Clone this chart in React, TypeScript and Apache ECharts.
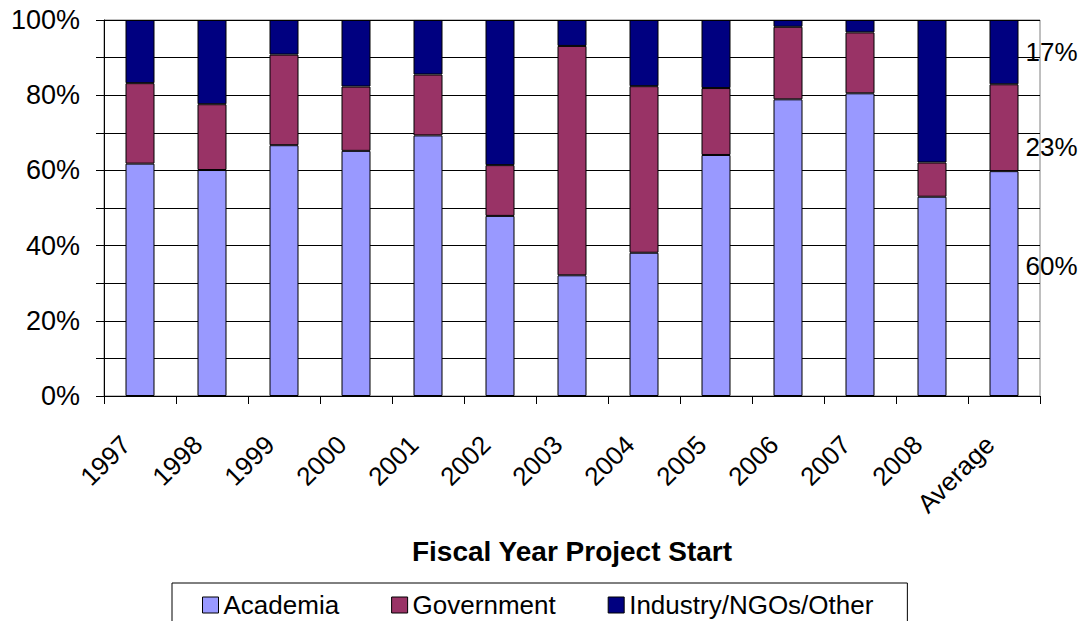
import React, { useEffect, useRef } from "react";
import * as echarts from "echarts";

const categories = ["1997", "1998", "1999", "2000", "2001", "2002", "2003", "2004", "2005", "2006", "2007", "2008", "Average"];
const academia = [61.8, 60.1, 66.7, 65.2, 69.3, 47.9, 32.1, 38.1, 64.1, 78.9, 80.5, 53.0, 59.8];
const government = [21.4, 17.5, 24.1, 17.1, 16.2, 13.5, 61.0, 44.3, 17.8, 19.3, 16.2, 9.1, 23.1];
const industry = [16.8, 22.4, 9.2, 17.7, 14.5, 38.6, 6.9, 17.6, 18.1, 1.8, 3.3, 37.9, 17.1];

const seriesNames = ["Academia", "Government", "Industry/NGOs/Other"];
const seriesColors = ["#9999FF", "#993366", "#000080"];
const labelOffsets = [-18, 19, 0];

const FONT = "'Liberation Sans', Arial, sans-serif";

export default function App() {
  const ref = useRef<HTMLDivElement>(null);
  useEffect(() => {
    if (!ref.current) return;
    const chart = echarts.init(ref.current, null, { renderer: "svg" });
    const all = [academia, government, industry];
    const series = all.map((arr, si) => ({
      name: seriesNames[si],
      type: "bar",
      stack: "total",
      barWidth: 29,
      itemStyle: { color: seriesColors[si], borderColor: "#000", borderWidth: 1 },
      data: arr.map((v, i) =>
        i === arr.length - 1
          ? {
              value: v,
              label: {
                show: true,
                position: "right",
                distance: 7,
                offset: [0, labelOffsets[si]],
                formatter: (p: any) => Math.round(p.value) + "%",
                color: "#000",
                fontSize: 26,
                fontFamily: FONT,
              },
            }
          : v
      ),
    }));
    chart.setOption({
      animation: false,
      backgroundColor: "#fff",
      textStyle: { fontFamily: FONT },
      grid: {
        left: 104,
        right: 44,
        top: 20,
        bottom: 225,
        show: true,
        borderColor: "#808080",
        borderWidth: 1,
        backgroundColor: "#fff",
      },
      legend: {
        left: 172,
        top: 583,
        padding: [9, 34, 30, 30],
        itemGap: 52,
        itemWidth: 16,
        itemHeight: 16,
        icon: "rect",
        borderColor: "#000",
        borderWidth: 1,
        textStyle: { fontSize: 26, color: "#000", fontFamily: FONT },
        itemStyle: { borderColor: "#000", borderWidth: 1 },
        data: seriesNames,
      },
      xAxis: {
        type: "category",
        data: categories,
        axisLine: { show: true, lineStyle: { color: "#000", width: 1 } },
        axisTick: { show: true, length: 8, lineStyle: { color: "#000" } },
        axisLabel: {
          rotate: 45,
          margin: 30,
          padding: [0, 20, 0, 0],
          fontSize: 26,
          color: "#000",
          fontFamily: FONT,
          interval: 0,
        },
        splitLine: { show: false },
      },
      yAxis: {
        type: "value",
        min: 0,
        max: 100,
        interval: 10,
        axisLine: { show: true, lineStyle: { color: "#000", width: 1 } },
        axisTick: { show: true, length: 8, lineStyle: { color: "#000" } },
        axisLabel: {
          margin: 24,
          fontSize: 27,
          color: "#000",
          fontFamily: FONT,
          formatter: (v: number) => (v % 20 === 0 ? v + "%" : ""),
        },
        splitLine: { show: true, lineStyle: { color: "#000", width: 1 } },
      },
      graphic: [
        {
          type: "text",
          x: 572,
          y: 551,
          style: {
            text: "Fiscal Year Project Start",
            fontSize: 28,
            fontWeight: "bold",
            fontFamily: FONT,
            fill: "#000",
            textAlign: "center",
            textVerticalAlign: "middle",
          },
        },
      ],
      series,
    });
    return () => chart.dispose();
  }, []);
  return (
    <div
      ref={ref}
      style={{ position: "absolute", left: 0, top: 0, width: 1084, height: 621 }}
    />
  );
}
